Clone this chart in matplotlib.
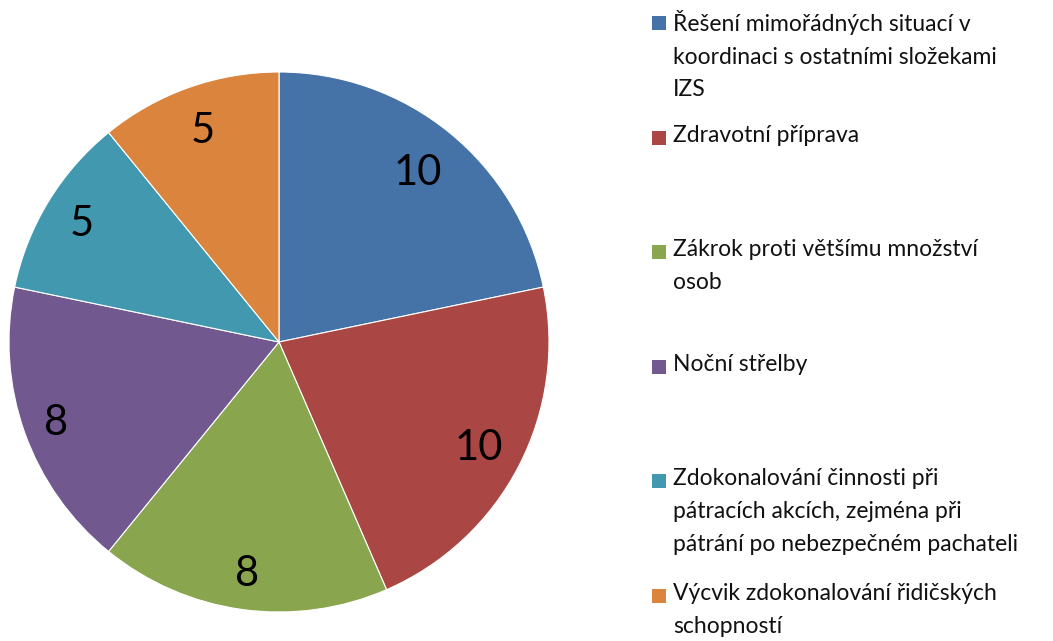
import matplotlib.pyplot as plt
import matplotlib.transforms as mtransforms
from matplotlib.patches import Rectangle
import numpy as np

labels = [
    "Řešení mimořádných situací v\nkoordinaci s ostatními složekami\nIZS",
    "Zdravotní příprava",
    "Zákrok proti většímu množství\nosob",
    "Noční střelby",
    "Zdokonalování činnosti při\npátracích akcích, zejména při\npátrání po nebezpečném pachateli",
    "Výcvik zdokonalování řidičských\nschopností",
]
values = [10, 10, 8, 8, 5, 5]
colors = ["#4572A7", "#AA4643", "#89A54E", "#71588F", "#4198AF", "#DB843D"]

W, H = 1053, 641
fig = plt.figure(figsize=(W / 100, H / 100), dpi=100)
plt.rcParams['font.family'] = ['Lato', 'DejaVu Sans']

# pie area in pixels: center (279, 342), radius 270
cx, cy, r = 279, 342, 270
ax = fig.add_axes([(cx - r) / W, (H - cy - r) / H, 2 * r / W, 2 * r / H])
wedges, texts = ax.pie(values, colors=colors, startangle=90, counterclock=False,
                       wedgeprops=dict(linewidth=0.8, edgecolor="white"))
# Excel "best fit" label distances
label_dist = [0.815, 0.835, 0.86, 0.878, 0.854, 0.838]
trans = mtransforms.offset_copy(ax.transData, fig=fig, y=-1.5, units="points")
for w, v, d in zip(wedges, values, label_dist):
    ang = np.deg2rad((w.theta1 + w.theta2) / 2)
    ax.text(d * np.cos(ang), d * np.sin(ang), str(v), fontsize=30,
            ha="center", va="center", color="black", transform=trans)
ax.set_xlim(-1, 1)
ax.set_ylim(-1, 1)
ax.axis("off")

# legend, entries spaced evenly like Excel does
y0 = 23
step = 114.6
for i, (lab, c) in enumerate(zip(labels, colors)):
    y = y0 + i * step
    fig.patches.append(Rectangle((652 / W, 1 - (y + 7) / H), 14 / W, 14 / H,
                                 transform=fig.transFigure, facecolor=c, edgecolor="none"))
    fig.text(673 / W, 1 - (y - 13) / H, lab, fontsize=16.5, va="top", ha="left",
             linespacing=1.68, color="#111111")

fig.savefig("out.png", dpi=100)
